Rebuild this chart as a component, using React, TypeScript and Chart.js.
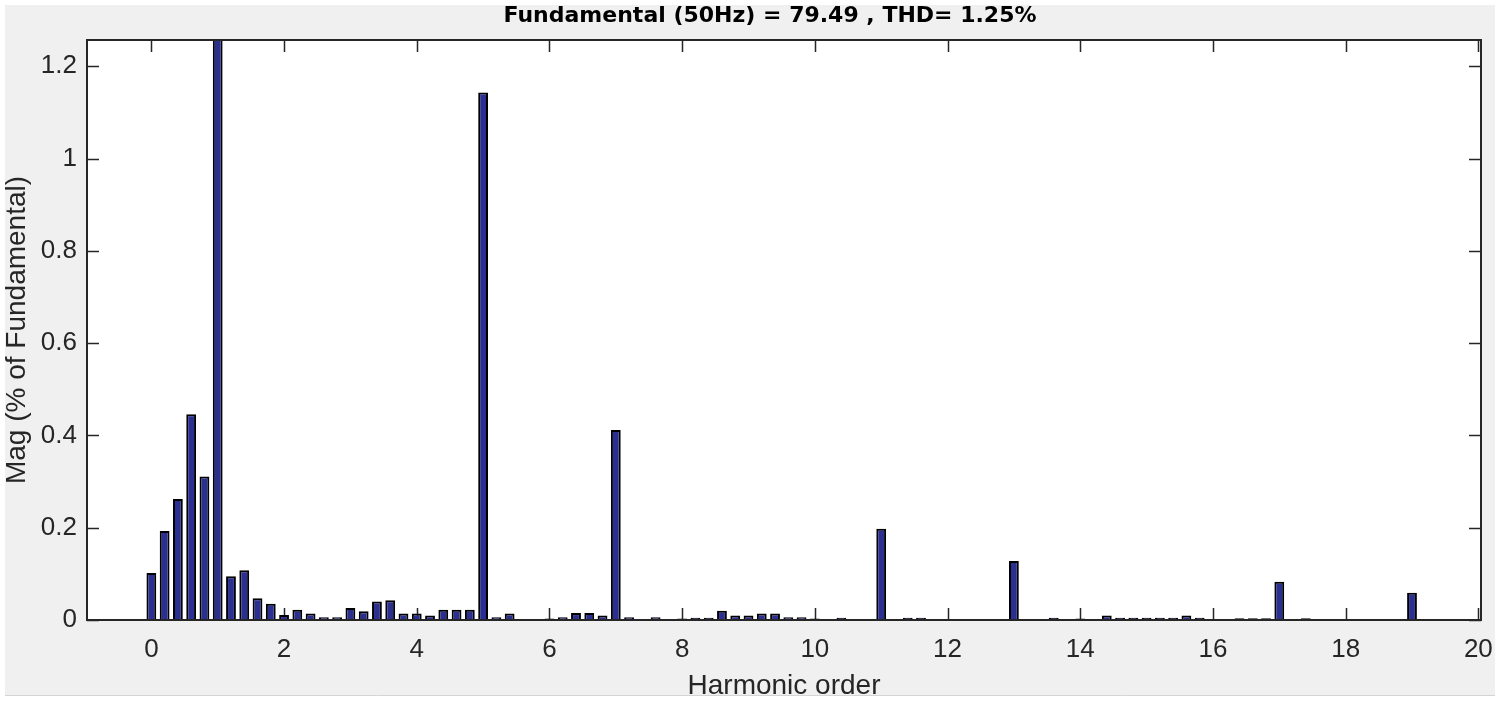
import React, { useEffect, useRef } from "react";
import { Chart, registerables } from "chart.js";

Chart.register(...registerables);

const TITLE = "Fundamental (50Hz) = 79.49 , THD= 1.25%";
const X_LABEL = "Harmonic order";
const Y_LABEL = "Mag (% of Fundamental)";

const HARMONIC_ORDER = [
  0, 0.2, 0.4, 0.6, 0.8, 1, 1.2, 1.4, 1.6, 1.8,
  2, 2.2, 2.4, 2.6, 2.8, 3, 3.2, 3.4, 3.6, 3.8,
  4, 4.2, 4.4, 4.6, 4.8, 5, 5.2, 5.4, 5.6, 5.8,
  6, 6.2, 6.4, 6.6, 6.8, 7, 7.2, 7.4, 7.6, 7.8,
  8, 8.2, 8.4, 8.6, 8.8, 9, 9.2, 9.4, 9.6, 9.8,
  10, 10.2, 10.4, 10.6, 10.8, 11, 11.2, 11.4, 11.6, 11.8,
  12, 12.2, 12.4, 12.6, 12.8, 13, 13.2, 13.4, 13.6, 13.8,
  14, 14.2, 14.4, 14.6, 14.8, 15, 15.2, 15.4, 15.6, 15.8,
  16, 16.2, 16.4, 16.6, 16.8, 17, 17.2, 17.4, 17.6, 17.8,
  18, 18.2, 18.4, 18.6, 18.8, 19, 19.2, 19.4, 19.6, 19.8,
  20,
];

const MAGNITUDE = [
  0.102, 0.193, 0.262, 0.446, 0.311, 100, 0.095, 0.108, 0.047, 0.035,
  0.011, 0.022, 0.014, 0.006, 0.006, 0.026, 0.019, 0.040, 0.043, 0.014,
  0.014, 0.010, 0.022, 0.022, 0.022, 1.143, 0.006, 0.014, 0.002, 0.002,
  0.003, 0.006, 0.015, 0.015, 0.010, 0.412, 0.006, 0.002, 0.006, 0.002,
  0.003, 0.005, 0.005, 0.020, 0.010, 0.010, 0.014, 0.014, 0.006, 0.006,
  0.003, 0.002, 0.005, 0.002, 0.002, 0.198, 0.002, 0.005, 0.005, 0.002,
  0.002, 0.002, 0.002, 0.002, 0.002, 0.128, 0.002, 0.002, 0.005, 0.002,
  0.003, 0.002, 0.010, 0.005, 0.005, 0.005, 0.005, 0.005, 0.010, 0.005,
  0.002, 0.002, 0.004, 0.004, 0.004, 0.083, 0.002, 0.004, 0.002, 0.002,
  0.002, 0.002, 0.002, 0.002, 0.002, 0.059, 0.002, 0.002, 0.002, 0.002,
  0.002,
];

const X_TICKS = [0, 2, 4, 6, 8, 10, 12, 14, 16, 18, 20];
const X_TICK_LABELS = ["0", "2", "4", "6", "8", "10", "12", "14", "16", "18", "20"];
const Y_TICKS = [0, 0.2, 0.4, 0.6, 0.8, 1, 1.2];
const Y_TICK_LABELS = ["0", "0.2", "0.4", "0.6", "0.8", "1", "1.2"];

const X_MIN = -0.97;
const X_MAX = 20.04;
const Y_MIN = 0;
const Y_MAX = 1.257;

const FONT = "'Liberation Sans', Arial, Helvetica, sans-serif";
const AXIS_COLOR = "#262626";

const figurePlugin = {
  id: "matlabFigure",
  beforeDraw(chart: any) {
    const ctx = chart.ctx;
    ctx.save();
    ctx.fillStyle = "#ffffff";
    ctx.fillRect(0, 0, chart.width, chart.height);
    ctx.fillStyle = "#f0f0f0";
    ctx.fillRect(5, 5, chart.width - 10, chart.height - 11);
    const ca = chart.chartArea;
    ctx.fillStyle = "#ffffff";
    ctx.fillRect(ca.left, ca.top, ca.right - ca.left, ca.bottom - ca.top);
    ctx.restore();
    ctx.save();
    ctx.beginPath();
    ctx.rect(5, 5, chart.width - 10, chart.height - 11);
    ctx.clip();
  },
  beforeDatasetsDraw(chart: any) {
    const ctx = chart.ctx;
    const ca = chart.chartArea;
    const xs = chart.scales.x;
    const ys = chart.scales.y;
    const len = 12;
    ctx.save();
    ctx.strokeStyle = AXIS_COLOR;
    ctx.lineWidth = 1.5;
    ctx.beginPath();
    X_TICKS.forEach((v) => {
      const px = Math.round(xs.getPixelForValue(v)) + 0.5;
      ctx.moveTo(px, ca.bottom);
      ctx.lineTo(px, ca.bottom - len);
      ctx.moveTo(px, ca.top);
      ctx.lineTo(px, ca.top + len);
    });
    Y_TICKS.forEach((v) => {
      const py = Math.round(ys.getPixelForValue(v)) + 0.5;
      ctx.moveTo(ca.left, py);
      ctx.lineTo(ca.left + len, py);
      ctx.moveTo(ca.right, py);
      ctx.lineTo(ca.right - len, py);
    });
    ctx.stroke();
    ctx.restore();
  },
  afterDatasetsDraw(chart: any) {
    const ctx = chart.ctx;
    const ca = chart.chartArea;
    ctx.save();
    ctx.strokeStyle = AXIS_COLOR;
    ctx.lineWidth = 2;
    ctx.strokeRect(ca.left, ca.top, ca.right - ca.left, ca.bottom - ca.top);
    ctx.restore();
  },
  afterDraw(chart: any) {
    const ctx = chart.ctx;
    const ca = chart.chartArea;
    ctx.save();
    ctx.fillStyle = "#000000";
    ctx.font = "bold 22px 'DejaVu Sans', sans-serif";
    ctx.textAlign = "center";
    ctx.textBaseline = "alphabetic";
    ctx.fillText(TITLE, (ca.left + ca.right) / 2 - 14, 21.5);
    ctx.restore();
    ctx.restore();
    ctx.save();
    ctx.strokeStyle = "#d4d4d4";
    ctx.lineWidth = 1;
    ctx.beginPath();
    ctx.moveTo(5, chart.height - 5.5);
    ctx.lineTo(chart.width - 5, chart.height - 5.5);
    ctx.stroke();
    ctx.restore();
  },
};

export default function App() {
  const canvasRef = useRef<HTMLCanvasElement | null>(null);

  useEffect(() => {
    document.body.style.margin = "0";
    const canvas = canvasRef.current;
    if (!canvas) return;
    const points = HARMONIC_ORDER.map((x, i) => ({ x, y: MAGNITUDE[i] }));
    const chart = new Chart(canvas, {
      type: "bar",
      data: {
        datasets: [
          {
            data: points as any,
            backgroundColor: "#2b2f8f",
            borderColor: "#000000",
            borderWidth: 2,
            barPercentage: 0.74,
            categoryPercentage: 1,
            clip: 0,
          } as any,
        ],
      },
      options: {
        animation: false,
        responsive: false,
        devicePixelRatio: 1,
        layout: { padding: { left: 0, right: 19, top: 40, bottom: 0 } },
        plugins: {
          legend: { display: false },
          title: { display: false },
          tooltip: { enabled: false },
        },
        scales: {
          x: {
            type: "linear",
            min: X_MIN,
            max: X_MAX,
            offset: false,
            grid: { display: false, drawTicks: false },
            border: { display: false },
            afterBuildTicks: (scale: any) => {
              scale.ticks = X_TICKS.map((v) => ({ value: v }));
            },
            afterFit: (scale: any) => {
              scale.height = 81;
              scale.paddingRight = 0;
              scale.paddingLeft = 0;
            },
            ticks: {
              autoSkip: false,
              maxRotation: 0,
              padding: 14,
              color: AXIS_COLOR,
              font: { family: FONT, size: 26 },
              callback: (_v: any, i: number) => X_TICK_LABELS[i],
            },
            title: {
              display: true,
              text: X_LABEL,
              color: AXIS_COLOR,
              font: { family: FONT, size: 28, lineHeight: 1 },
              padding: { top: 0, bottom: 0.5 },
            },
          },
          y: {
            type: "linear",
            min: Y_MIN,
            max: Y_MAX,
            grid: { display: false, drawTicks: false },
            border: { display: false },
            afterBuildTicks: (scale: any) => {
              scale.ticks = Y_TICKS.map((v) => ({ value: v }));
            },
            afterFit: (scale: any) => {
              scale.width = 87;
              scale.paddingTop = 0;
              scale.paddingBottom = 0;
            },
            ticks: {
              autoSkip: false,
              padding: 10,
              color: AXIS_COLOR,
              font: { family: FONT, size: 26 },
              callback: (_v: any, i: number) => Y_TICK_LABELS[i],
            },
            title: {
              display: true,
              text: Y_LABEL,
              color: AXIS_COLOR,
              font: { family: FONT, size: 28, lineHeight: 1 },
              padding: { top: 3.5, bottom: 0 },
            },
          },
        },
      },
      plugins: [figurePlugin],
    });
    return () => {
      chart.destroy();
    };
  }, []);

  return (
    <div style={{ width: 1500, height: 701, background: "#ffffff" }}>
      <canvas ref={canvasRef} width={1500} height={701} style={{ display: "block", width: 1500, height: 701 }} />
    </div>
  );
}
